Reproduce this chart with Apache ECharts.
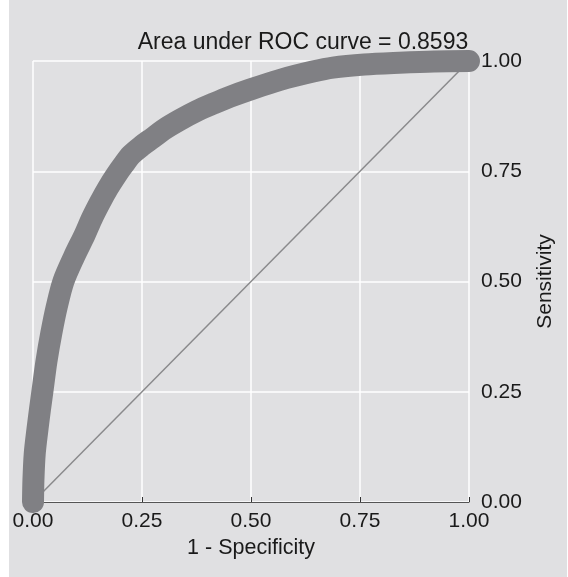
<!DOCTYPE html>
<html>
<head>
<meta charset="utf-8">
<script src="https://cdn.jsdelivr.net/npm/echarts@6/dist/echarts.min.js"></script>
<style>
  html, body { margin: 0; padding: 0; background: #ffffff; }
  #chart { position: absolute; left: 9px; top: 0; width: 558px; height: 577px; }
</style>
</head>
<body>
<div id="chart"></div>
<script>
// ROC curve points
const fpr = [0.000, 0.001, 0.004, 0.010, 0.016, 0.022, 0.031, 0.042, 0.055, 0.070, 0.094, 0.119, 0.135, 0.154, 0.172, 0.190, 0.207, 0.225, 0.250, 0.275, 0.299, 0.336, 0.376, 0.415, 0.452, 0.500, 0.566, 0.642, 0.688, 0.760, 0.840, 0.920, 1.000];
const tpr = [0.000, 0.050, 0.110, 0.163, 0.210, 0.254, 0.320, 0.383, 0.445, 0.501, 0.556, 0.607, 0.643, 0.680, 0.712, 0.740, 0.764, 0.787, 0.808, 0.826, 0.844, 0.866, 0.887, 0.904, 0.919, 0.936, 0.957, 0.976, 0.985, 0.992, 0.996, 0.999, 1.000];
const refX = [0, 1];
const refY = [0, 1];
const tickLabels = ['0.00', '0.25', '0.50', '0.75', '1.00'];
const titleText = 'Area under ROC curve = 0.8593';
const xName = '1 - Specificity';
const yName = 'Sensitivity';

const font = '"Liberation Sans", Arial, sans-serif';
const fmt = v => tickLabels[Math.round(v * 4)];

const chart = echarts.init(document.getElementById('chart'));
chart.setOption({
  backgroundColor: '#e0e0e2',
  animation: false,
  grid: { left: 24, top: 61, width: 436, height: 441 },
  graphic: [{
    type: 'text',
    x: 294, y: 43,
    z: 10,
    style: {
      text: titleText, fill: '#1a1a1a',
      font: '23px ' + font,
      align: 'center', verticalAlign: 'middle',
      textAlign: 'center', textVerticalAlign: 'middle'
    }
  }],
  xAxis: {
    type: 'value', min: 0, max: 1, interval: 0.25,
    name: xName, nameLocation: 'middle', nameGap: 35,
    nameTextStyle: { fontFamily: font, fontSize: 21.5, color: '#1a1a1a' },
    axisLine: { show: true, onZero: false, lineStyle: { color: '#555', width: 1 } },
    axisTick: { show: true, inside: true, length: 5, lineStyle: { color: '#333', width: 1 } },
    axisLabel: { formatter: fmt, fontFamily: font, fontSize: 21, color: '#1a1a1a', margin: 9 },
    splitLine: { show: true, lineStyle: { color: '#ffffff', width: 1.5 } }
  },
  yAxis: {
    type: 'value', min: 0, max: 1, interval: 0.25, position: 'right',
    name: yName, nameLocation: 'middle', nameGap: 66,
    nameTextStyle: { fontFamily: font, fontSize: 21, color: '#1a1a1a' },
    axisLine: { show: false },
    axisTick: { show: false },
    axisLabel: { formatter: fmt, fontFamily: font, fontSize: 21, color: '#1a1a1a', margin: 12 },
    splitLine: { show: true, lineStyle: { color: '#ffffff', width: 1.5 } }
  },
  series: [
    {
      type: 'line', name: 'reference',
      data: refX.map((x, i) => [x, refY[i]]),
      showSymbol: false, z: 2,
      lineStyle: { color: '#8a8a8c', width: 1.5 }
    },
    {
      type: 'line', name: 'ROC',
      data: fpr.map((x, i) => [x, tpr[i]]),
      showSymbol: false, smooth: 0.3, z: 3,
      lineStyle: { color: '#808084', width: 22, cap: 'round', join: 'round' }
    }
  ]
});
</script>
</body>
</html>
